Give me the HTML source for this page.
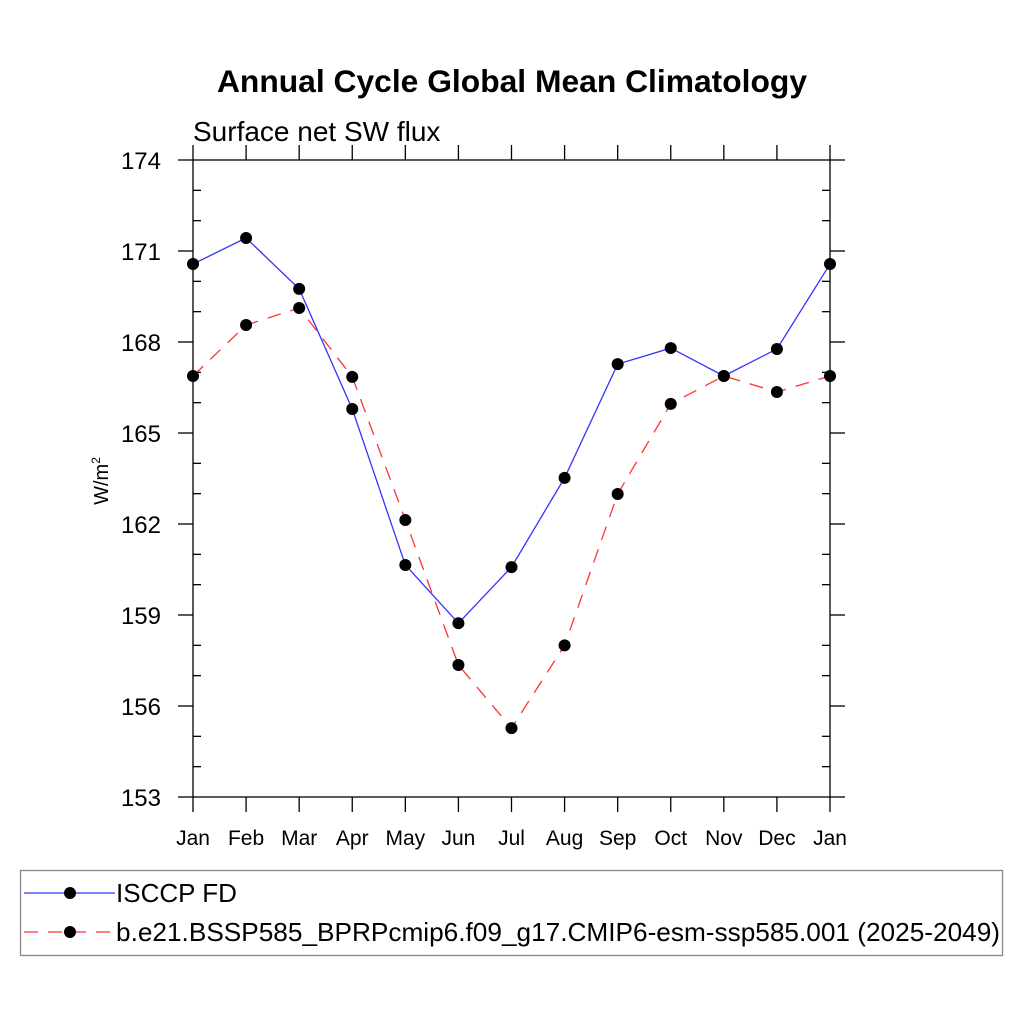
<!DOCTYPE html>
<html><head><meta charset="utf-8"><style>
body{margin:0;background:#fff}
svg text{font-family:"Liberation Sans",sans-serif}
</style></head><body>
<svg id="c" width="1024" height="1024" xmlns="http://www.w3.org/2000/svg">
<text x="512" y="92" text-anchor="middle" font-size="31.8" font-weight="bold">Annual Cycle Global Mean Climatology</text>
<text x="193" y="141" font-size="28">Surface net SW flux</text>
<text transform="translate(108,481) rotate(-90)" text-anchor="middle" font-size="20">W/m<tspan dy="-8" font-size="12">2</tspan></text>
<g id="axes"></g><g id="series"></g>
<rect x="20.5" y="870.5" width="982" height="85" fill="none" stroke="#888" stroke-width="1.3"/>
<g>
<line x1="24" y1="893" x2="115" y2="893" stroke="#3333ff" stroke-width="1.3"/>
<circle cx="70" cy="893" r="6" fill="#000"/>
<text x="116" y="902" font-size="26">ISCCP FD</text></g>
<g>
<line x1="24" y1="932" x2="115" y2="932" stroke="#ff3333" stroke-width="1.3" stroke-dasharray="14,10"/>
<circle cx="70" cy="932" r="6" fill="#000"/>
<text x="116" y="941" font-size="26" textLength="884" lengthAdjust="spacingAndGlyphs">b.e21.BSSP585_BPRPcmip6.f09_g17.CMIP6-esm-ssp585.001 (2025-2049)</text></g>
</svg>
<script>
const months=["Jan","Feb","Mar","Apr","May","Jun","Jul","Aug","Sep","Oct","Nov","Dec","Jan"];
const yTicks=[153,156,159,162,165,168,171,174];
const obsValues=[170.57,171.43,169.75,165.79,160.65,158.73,160.58,163.52,167.27,167.80,166.88,167.77,170.57];
const modelValues=[166.88,168.56,169.12,166.85,162.13,157.35,155.27,158.0,162.99,165.96,166.88,166.35,166.88];
const L=193,R=830,T=160,B=797,ymin=153,ymax=174;
const xs=i=>L+(R-L)*i/(months.length-1);
const ys=v=>B-(v-ymin)/(ymax-ymin)*(B-T);
const NS="http://www.w3.org/2000/svg";
function mk(p,t,a){const e=document.createElementNS(NS,t);for(const k in a)e.setAttribute(k,a[k]);p.appendChild(e);return e;}
const ax=document.getElementById('axes');
const fr=mk(ax,'rect',{x:L,y:T,width:R-L,height:B-T,fill:'none',stroke:'#000','stroke-width':1.3});


const st={stroke:'#000','stroke-width':1.3};
for(let v=ymin;v<=ymax;v++){const y=ys(v);
 if(yTicks.includes(v)){mk(ax,'line',{x1:L-15,y1:y,x2:L,y2:y,...st});mk(ax,'line',{x1:R,y1:y,x2:R+15,y2:y,...st});
  const t=mk(ax,'text',{x:161,y:y+9,'text-anchor':'end','font-size':24});t.textContent=v;
  
  }
 else{mk(ax,'line',{x1:L,y1:y,x2:L+8,y2:y,...st});mk(ax,'line',{x1:R-8,y1:y,x2:R,y2:y,...st});}}
months.forEach((m,i)=>{const x=xs(i);
 mk(ax,'line',{x1:x,y1:B,x2:x,y2:B+15,...st});mk(ax,'line',{x1:x,y1:T-15,x2:x,y2:T,...st});
 const t=mk(ax,'text',{x:x,y:845,'text-anchor':'middle','font-size':21});t.textContent=m;
 
 });
const sg=document.getElementById('series');
function draw(vals,col,dash,name){
 const g=mk(sg,'g',{});
 
 
 const pl=mk(g,'polyline',{points:vals.map((v,i)=>xs(i)+','+ys(v)).join(' '),fill:'none',stroke:col,'stroke-width':1.3});
 if(dash)pl.setAttribute('stroke-dasharray',dash);
 vals.forEach((v,i)=>{const c=mk(g,'circle',{cx:xs(i),cy:ys(v),r:6,fill:'#000'});
  
  });}
draw(modelValues,'#ff3333','14,10','series-model');
draw(obsValues,'#3333ff',null,'series-isccp');
</script>
</body></html>
